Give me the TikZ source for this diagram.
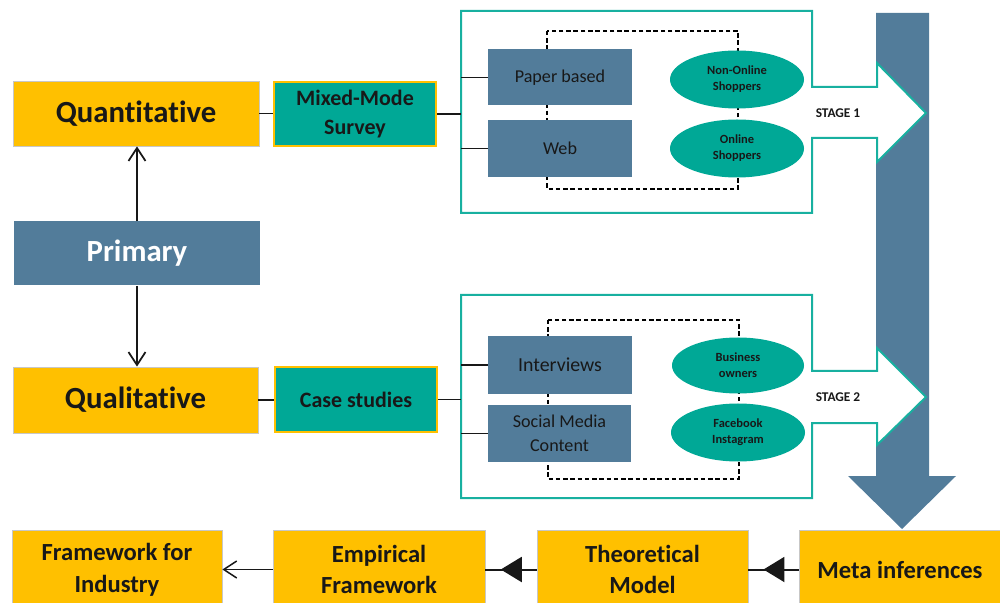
\documentclass[tikz,border=0pt]{standalone}
\usepackage{fontspec}
\setmainfont{Carlito}[Ligatures=CommonOff]
\usetikzlibrary{arrows.meta,shapes.geometric,decorations.markings}

\definecolor{gold}{HTML}{FFC000}
\definecolor{jade}{RGB}{0,168,150}
\definecolor{jadeline}{RGB}{24,176,160}
\definecolor{slate}{RGB}{82,124,154}
\definecolor{ink}{RGB}{24,24,24}

\tikzset{
  yellowbox/.style={fill=gold, draw=black!22, line width=0.15mm, text=ink,
    align=center, inner sep=0pt},
  bigtext/.style={font=\fontsize{17.5}{21}\selectfont\bfseries},
  bottomtext/.style={font=\fontsize{14}{18}\selectfont\bfseries},
  tealbox/.style={fill=jade, draw=gold, line width=0.4mm, text=ink, align=center,
    inner sep=0pt, minimum width=32.4mm, minimum height=12.8mm,
    font=\fontsize{12.5}{16.5}\selectfont\bfseries},
  bluebox/.style={fill=slate, draw=none, text=ink, align=center, inner sep=0pt,
    minimum width=28.8mm, minimum height=11.4mm},
  grouptag/.style={ellipse, fill=jade, text=ink, align=center, inner sep=0pt,
    minimum width=26.8mm, minimum height=11.6mm,
    font=\fontsize{7.1}{9}\selectfont\bfseries},
  stageframe/.style={fill=white, draw=jadeline, line width=0.4mm, line join=miter},
  stagelabel/.style={text=ink, font=\fontsize{7.6}{9}\selectfont\bfseries},
  dashframe/.style={draw=black, line width=0.3mm, dash pattern=on 0.9mm off 0.55mm},
  linkline/.style={draw=ink, line width=0.22mm},
  branch/.style={draw=ink, line width=0.35mm,
    -{Straight Barb[length=2.6mm, width=3.4mm, line width=0.35mm]}},
  midtri/.style={draw=ink, line width=0.4mm, postaction={decorate},
    decoration={markings, mark=at position 0.7 with
      {\arrow{Triangle[length=4.2mm, width=5mm]}}}},
  bottombox/.style={yellowbox, bottomtext, minimum height=15.8mm}
}

\begin{document}
\begin{tikzpicture}[x=0.2mm, y=-0.2mm]
\useasboundingbox (0,0) rectangle (1000,603);

% large downward arrow carrying both stages
\fill[slate] (876,13) -- (929,13) -- (929,476) -- (956,476) -- (902,529)
  -- (848,476) -- (876,476) -- cycle;

% stage frames with their arrow heads
\draw[stageframe] (461,11) -- (812,11) -- (812,87) -- (877,87) -- (877,63)
  -- (926,113) -- (877,162) -- (877,138) -- (812,138) -- (812,213)
  -- (461,213) -- cycle;
\draw[stageframe] (461,295) -- (812,295) -- (812,371) -- (877,371) -- (877,348)
  -- (926,397) -- (877,445) -- (877,423) -- (812,423) -- (812,498)
  -- (461,498) -- cycle;
\coordinate (s1w) at (461,113);
\coordinate (s2w) at (461,399);

\node[stagelabel] (st1) at (838,113) {STAGE 1};
\node[stagelabel] (st2) at (838,397) {STAGE 2};

% dashed frames linking modes and respondent groups
\draw[dashframe] (547,31) rectangle (738,189);
\draw[dashframe] (548,320) rectangle (739,479);

% left column
\node[yellowbox, bigtext, minimum width=49.2mm, minimum height=13mm]
  (quant) at (136,113.5) {Quantitative};
\node[fill=slate, text=white, bigtext, inner sep=0pt, minimum width=49.2mm,
  minimum height=12.8mm] (primary) at (137,253.5) {Primary};
\node[yellowbox, bigtext, minimum width=49mm, minimum height=13.2mm]
  (qual) at (135.5,400) {Qualitative};

\node[tealbox] (mixed) at (355,114) {Mixed-Mode\\Survey};
\node[tealbox] (cases) at (356,399.5) {Case studies};

% stage 1 contents
\node[bluebox, minimum height=11.2mm, font=\fontsize{10.3}{12.5}\selectfont]
  (paper) at (560,77.5) {Paper based};
\node[bluebox, font=\fontsize{10.3}{12.5}\selectfont]
  (web) at (560,148.5) {Web};
\node[grouptag] (nononline) at (737,79.5) {Non-Online\\Shoppers};
\node[grouptag] (online) at (737,148.5) {Online\\Shoppers};

% stage 2 contents
\node[bluebox, font=\fontsize{11.3}{13.5}\selectfont]
  (interviews) at (560,365) {Interviews};
\node[bluebox, minimum width=28.6mm, font=\fontsize{10.3}{13.5}\selectfont]
  (social) at (559.5,433.5) {Social Media\\Content};
\node[grouptag, minimum width=26.4mm, minimum height=11.2mm]
  (business) at (738,365.5) {Business\\owners};
\node[grouptag] (facebook) at (738,432.5) {Facebook\\Instagram};

% bottom row (boxes run past the lower edge)
\node[bottombox, minimum width=42mm] (industry) at (117,569.5)
  {Framework for\\Industry};
\node[bottombox, minimum width=42.4mm] (empirical) at (379,569.5)
  {Empirical\\Framework};
\node[bottombox, minimum width=42.2mm] (theory) at (642.5,569.5)
  {Theoretical\\Model};
\node[bottombox, minimum width=40.4mm] (meta) at (900,569.5)
  {Meta inferences};

% connectors
\draw[branch] (primary.north) -- (primary.north |- quant.south);
\draw[branch] (primary.south) -- (primary.south |- qual.north);

\draw[linkline] (quant.east) -- (quant.east -| mixed.west);
\draw[linkline] (mixed.east) -- (mixed.east -| s1w);
\draw[linkline] (s1w |- paper.west) -- (paper.west);
\draw[linkline] (s1w |- web.west) -- (web.west);

\draw[linkline] (qual.east) -- (qual.east -| cases.west);
\draw[linkline] (cases.east) -- (cases.east -| s2w);
\draw[linkline] (s2w |- interviews.west) -- (interviews.west);
\draw[linkline] (s2w |- social.west) -- (social.west);

\draw[midtri] (meta.west) -- (theory.east);
\draw[midtri] (theory.west) -- (empirical.east);
\draw[draw=ink, line width=0.3mm,
  -{Straight Barb[length=2.6mm, width=3.4mm, line width=0.3mm]}]
  (empirical.west) -- (industry.east);
\end{tikzpicture}
\end{document}
